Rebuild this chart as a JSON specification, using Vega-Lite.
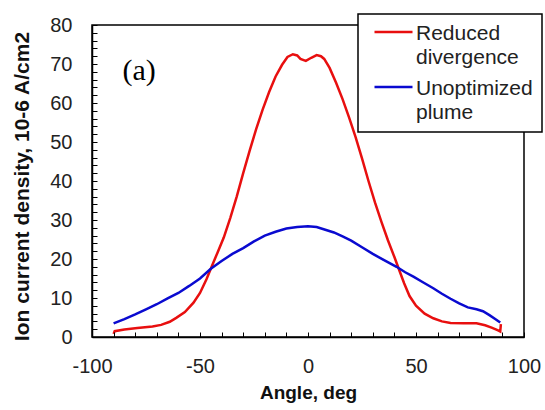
{
  "$schema": "https://vega.github.io/schema/vega-lite/v6.json",
  "width": 432,
  "height": 312,
  "autosize": {"type": "none"},
  "padding": {"left": 92, "top": 25, "right": 21, "bottom": 73},
  "background": "white",
  "config": {
    "view": {"stroke": "black", "strokeWidth": 1.5},
    "axis": {
      "grid": false,
      "labelFont": "Liberation Sans",
      "labelFontSize": 20,
      "labelColor": "#222",
      "titleFont": "Liberation Sans",
      "titleFontWeight": "bold",
      "titleColor": "#111",
      "domainColor": "black",
      "domainWidth": 1.5
    }
  },
  "data": {
    "values": [
      {"series": "Reduced divergence", "angle": -90, "value": 0.8},
      {"series": "Reduced divergence", "angle": -89.5, "value": 1.5},
      {"series": "Reduced divergence", "angle": -85, "value": 1.9},
      {"series": "Reduced divergence", "angle": -79, "value": 2.3},
      {"series": "Reduced divergence", "angle": -72, "value": 2.7},
      {"series": "Reduced divergence", "angle": -68, "value": 3.1},
      {"series": "Reduced divergence", "angle": -64, "value": 3.9},
      {"series": "Reduced divergence", "angle": -61, "value": 4.9},
      {"series": "Reduced divergence", "angle": -57, "value": 6.4},
      {"series": "Reduced divergence", "angle": -53, "value": 8.8},
      {"series": "Reduced divergence", "angle": -50, "value": 11.3},
      {"series": "Reduced divergence", "angle": -47, "value": 14.8},
      {"series": "Reduced divergence", "angle": -45, "value": 17.5},
      {"series": "Reduced divergence", "angle": -42, "value": 21.5},
      {"series": "Reduced divergence", "angle": -39, "value": 25.5},
      {"series": "Reduced divergence", "angle": -36, "value": 30.5},
      {"series": "Reduced divergence", "angle": -33, "value": 36},
      {"series": "Reduced divergence", "angle": -30, "value": 42},
      {"series": "Reduced divergence", "angle": -27, "value": 47.8},
      {"series": "Reduced divergence", "angle": -24, "value": 53.3},
      {"series": "Reduced divergence", "angle": -21, "value": 58.3},
      {"series": "Reduced divergence", "angle": -18, "value": 62.8},
      {"series": "Reduced divergence", "angle": -15, "value": 66.8},
      {"series": "Reduced divergence", "angle": -12, "value": 69.8},
      {"series": "Reduced divergence", "angle": -9.5, "value": 71.8},
      {"series": "Reduced divergence", "angle": -7, "value": 72.5},
      {"series": "Reduced divergence", "angle": -5, "value": 72.2},
      {"series": "Reduced divergence", "angle": -3.5, "value": 71.3},
      {"series": "Reduced divergence", "angle": -1, "value": 70.8},
      {"series": "Reduced divergence", "angle": 1.5, "value": 71.6},
      {"series": "Reduced divergence", "angle": 4, "value": 72.3},
      {"series": "Reduced divergence", "angle": 6, "value": 72},
      {"series": "Reduced divergence", "angle": 7.5, "value": 71.3},
      {"series": "Reduced divergence", "angle": 10, "value": 69},
      {"series": "Reduced divergence", "angle": 13, "value": 65.2},
      {"series": "Reduced divergence", "angle": 16, "value": 61},
      {"series": "Reduced divergence", "angle": 19, "value": 56.3},
      {"series": "Reduced divergence", "angle": 22, "value": 51.3},
      {"series": "Reduced divergence", "angle": 25, "value": 45.8},
      {"series": "Reduced divergence", "angle": 28, "value": 40},
      {"series": "Reduced divergence", "angle": 31, "value": 34.5},
      {"series": "Reduced divergence", "angle": 34, "value": 29.5},
      {"series": "Reduced divergence", "angle": 37, "value": 24.8},
      {"series": "Reduced divergence", "angle": 40, "value": 20.5},
      {"series": "Reduced divergence", "angle": 42, "value": 17.5},
      {"series": "Reduced divergence", "angle": 44.5, "value": 13.8},
      {"series": "Reduced divergence", "angle": 47, "value": 10.5},
      {"series": "Reduced divergence", "angle": 50, "value": 8},
      {"series": "Reduced divergence", "angle": 54, "value": 6},
      {"series": "Reduced divergence", "angle": 58, "value": 4.8},
      {"series": "Reduced divergence", "angle": 62, "value": 4},
      {"series": "Reduced divergence", "angle": 66, "value": 3.6},
      {"series": "Reduced divergence", "angle": 72, "value": 3.5},
      {"series": "Reduced divergence", "angle": 78, "value": 3.5},
      {"series": "Reduced divergence", "angle": 82, "value": 3.0},
      {"series": "Reduced divergence", "angle": 85, "value": 2.4},
      {"series": "Reduced divergence", "angle": 88, "value": 1.7},
      {"series": "Reduced divergence", "angle": 89, "value": 1.4},
      {"series": "Reduced divergence", "angle": 89.3, "value": 3.3},
      {"series": "Unoptimized plume", "angle": -90, "value": 3.5},
      {"series": "Unoptimized plume", "angle": -85, "value": 4.6},
      {"series": "Unoptimized plume", "angle": -80, "value": 5.8},
      {"series": "Unoptimized plume", "angle": -75, "value": 7.1},
      {"series": "Unoptimized plume", "angle": -70, "value": 8.4},
      {"series": "Unoptimized plume", "angle": -65, "value": 9.9},
      {"series": "Unoptimized plume", "angle": -60, "value": 11.3},
      {"series": "Unoptimized plume", "angle": -55, "value": 13.1},
      {"series": "Unoptimized plume", "angle": -50, "value": 15},
      {"series": "Unoptimized plume", "angle": -45, "value": 17.5},
      {"series": "Unoptimized plume", "angle": -40, "value": 19.5},
      {"series": "Unoptimized plume", "angle": -35, "value": 21.3},
      {"series": "Unoptimized plume", "angle": -30, "value": 22.8},
      {"series": "Unoptimized plume", "angle": -25, "value": 24.5},
      {"series": "Unoptimized plume", "angle": -20, "value": 26},
      {"series": "Unoptimized plume", "angle": -15, "value": 27},
      {"series": "Unoptimized plume", "angle": -10, "value": 27.8},
      {"series": "Unoptimized plume", "angle": -5, "value": 28.2},
      {"series": "Unoptimized plume", "angle": 0, "value": 28.4},
      {"series": "Unoptimized plume", "angle": 4, "value": 28.2},
      {"series": "Unoptimized plume", "angle": 8, "value": 27.5},
      {"series": "Unoptimized plume", "angle": 12, "value": 26.8},
      {"series": "Unoptimized plume", "angle": 16, "value": 25.8},
      {"series": "Unoptimized plume", "angle": 20, "value": 24.7},
      {"series": "Unoptimized plume", "angle": 25, "value": 23},
      {"series": "Unoptimized plume", "angle": 30, "value": 21.3},
      {"series": "Unoptimized plume", "angle": 35, "value": 19.8},
      {"series": "Unoptimized plume", "angle": 41, "value": 18},
      {"series": "Unoptimized plume", "angle": 45, "value": 16.6},
      {"series": "Unoptimized plume", "angle": 49, "value": 15.4},
      {"series": "Unoptimized plume", "angle": 53, "value": 14.1},
      {"series": "Unoptimized plume", "angle": 58, "value": 12.5},
      {"series": "Unoptimized plume", "angle": 62, "value": 11.1},
      {"series": "Unoptimized plume", "angle": 66, "value": 9.8},
      {"series": "Unoptimized plume", "angle": 70, "value": 8.6},
      {"series": "Unoptimized plume", "angle": 74, "value": 7.6},
      {"series": "Unoptimized plume", "angle": 78, "value": 7.1},
      {"series": "Unoptimized plume", "angle": 81, "value": 6.6},
      {"series": "Unoptimized plume", "angle": 84, "value": 5.6},
      {"series": "Unoptimized plume", "angle": 87, "value": 4.5},
      {"series": "Unoptimized plume", "angle": 89, "value": 3.7}
    ]
  },
  "layer": [
    {
      "mark": {"type": "line", "strokeWidth": 2.5, "clip": true},
      "encoding": {
        "x": {
          "field": "angle",
          "type": "quantitative",
          "scale": {"domain": [-100, 100], "nice": false},
          "axis": {
            "title": "Angle, deg",
            "titleFontSize": 19,
            "tickCount": 20,
            "labelExpr": "datum.value % 50 == 0 ? '' + datum.value : ''",
            "labelOverlap": false,
            "labelFlush": false,
            "ticks": true,
            "tickOpacity": 1,
            "tickColor": "black",
            "tickWidth": 1,
            "tickSize": -5,
            "zindex": 1,
            "labelPadding": 24,
            "titleX": 216,
            "titleY": 55,
            "titleBaseline": "middle"
          }
        },
        "y": {
          "field": "value",
          "type": "quantitative",
          "scale": {"domain": [0, 80], "nice": false},
          "axis": {
            "title": "Ion current density, 10-6 A/cm2",
            "titleFontSize": 21,
            "tickCount": 40,
            "labelExpr": "datum.value % 10 == 0 ? '' + datum.value : ''",
            "labelOverlap": false,
            "ticks": true,
            "tickOpacity": 1,
            "tickColor": "black",
            "tickWidth": 1,
            "tickSize": -5,
            "zindex": 1,
            "labelPadding": 25,
            "titleX": -70,
            "titleY": 161,
            "titleAngle": -90,
            "titleAlign": "center",
            "titleBaseline": "middle"
          }
        },
        "color": {
          "field": "series",
          "type": "nominal",
          "scale": {"domain": ["Reduced divergence", "Unoptimized plume"], "range": ["#e80f0f", "#0a0ad0"]},
          "legend": {
            "title": null,
            "orient": "none",
            "legendX": 266,
            "legendY": -11,
            "fillColor": "white",
            "strokeColor": "black",
            "padding": 9,
            "symbolType": "stroke",
            "symbolSize": 1444,
            "symbolStrokeWidth": 2.5,
            "symbolOffset": 6,
            "labelOffset": 2,
            "labelFont": "Liberation Sans",
            "labelFontSize": 21,
            "labelColor": "#222",
            "labelLimit": 300,
            "labelBaseline": "top",
            "rowPadding": 10,
            "labelExpr": "split(datum.label, ' ')",
            "encode": {
              "legend": {"update": {"strokeWidth": {"value": 1.5}}},
              "symbols": {"update": {"y": {"value": 9}}},
              "labels": {"update": {"y": {"value": 0}, "lineHeight": {"value": 23.5}}}
            }
          }
        }
      }
    },
    {
      "data": {"values": [{"tag": "(a)", "angle": -78.2, "value": 65.9}]},
      "mark": {"type": "text", "font": "Liberation Serif", "fontSize": 30, "fontWeight": "normal", "align": "center", "baseline": "alphabetic", "fill": "black"},
      "encoding": {
        "x": {"field": "angle", "type": "quantitative"},
        "y": {"field": "value", "type": "quantitative"},
        "text": {"field": "tag"}
      }
    }
  ]
}
